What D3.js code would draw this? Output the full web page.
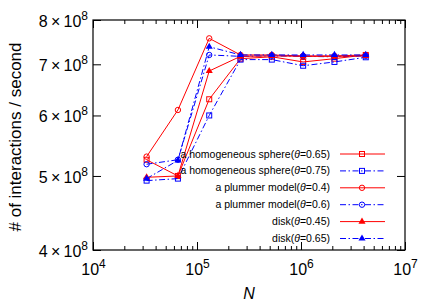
<!DOCTYPE html>
<html>
<head>
<meta charset="utf-8">
<script src="https://cdn.jsdelivr.net/npm/d3@7"></script>
<style>
  body { margin: 0; background: #fff; }
  svg { display: block; font-family: "Liberation Sans", Arial, sans-serif; }
</style>
</head>
<body>
<svg id="chart" width="436" height="305"></svg>
<script>
const nValues = [32768, 65536, 131072, 262144, 524288, 1048576, 2097152, 4194304];

const homog065 = [5.25e8, 5.0e8, 6.3e8, 7.12e8, 7.16e8, 7.05e8, 7.12e8, 7.2e8];
const homog075 = [4.93e8, 4.96e8, 6.0e8, 7.1e8, 7.1e8, 6.97e8, 7.05e8, 7.15e8];
const plummer04 = [5.3e8, 6.1e8, 7.57e8, 7.2e8, 7.2e8, 7.18e8, 7.18e8, 7.2e8];
const plummer06 = [5.18e8, 5.25e8, 7.2e8, 7.17e8, 7.18e8, 7.17e8, 7.16e8, 7.18e8];
const disk045 = [4.98e8, 5.0e8, 6.86e8, 7.17e8, 7.18e8, 7.17e8, 7.17e8, 7.18e8];
const disk065 = [4.96e8, 5.24e8, 7.38e8, 7.2e8, 7.2e8, 7.2e8, 7.2e8, 7.2e8];

const seriesNames = [
  ["a homogeneous sphere(", "0.65)"],
  ["a homogeneous sphere(", "0.75)"],
  ["a plummer model(", "0.4)"],
  ["a plummer model(", "0.6)"],
  ["disk(", "0.45)"],
  ["disk(", "0.65)"]
];

const xTicks = [1e4, 1e5, 1e6, 1e7];
const xExponents = [4, 5, 6, 7];
const yTicks = [4e8, 5e8, 6e8, 7e8, 8e8];
const yMantissas = [4, 5, 6, 7, 8];

const dashDot = "6,2.5,1.5,2.5";
const series = [
  { values: homog065, color: "#ff0000", dash: null, marker: "square" },
  { values: homog075, color: "#0000ff", dash: dashDot, marker: "square" },
  { values: plummer04, color: "#ff0000", dash: null, marker: "circle" },
  { values: plummer06, color: "#0000ff", dash: dashDot, marker: "circle" },
  { values: disk045, color: "#ff0000", dash: null, marker: "triangle" },
  { values: disk065, color: "#0000ff", dash: dashDot, marker: "triangle" }
];

const svg = d3.select("#chart");
const margin = { top: 20, right: 31, bottom: 55, left: 93 };
const width = 436, height = 305;
const innerWidth = width - margin.left - margin.right;
const innerHeight = height - margin.top - margin.bottom;

const x = d3.scaleLog().domain([1e4, 1e7]).range([0, innerWidth]);
const y = d3.scaleLog().domain([4e8, 8e8]).range([innerHeight, 0]);

const g = svg.append("g").attr("transform", `translate(${margin.left},${margin.top})`);

// minor x ticks 2..9 per decade
const minorX = [];
for (let e = 4; e < 7; e++) for (let m = 2; m <= 9; m++) minorX.push(m * Math.pow(10, e));

const styleAxis = (sel) => {
  sel.select(".domain").remove();
  sel.selectAll("line").attr("stroke", "#000").attr("stroke-width", 1);
};
const noLabels = (sel) => sel.selectAll(".tick text").remove();

g.append("g").attr("transform", `translate(0,${innerHeight})`)
  .call(d3.axisBottom(x).tickValues(minorX).tickSize(-4))
  .call(styleAxis).call(noLabels);
g.append("g")
  .call(d3.axisTop(x).tickValues(minorX).tickSize(-4))
  .call(styleAxis).call(noLabels);

const xAxis = g.append("g").attr("transform", `translate(0,${innerHeight})`)
  .call(d3.axisBottom(x).tickValues(xTicks).tickSize(-8))
  .call(styleAxis);
xAxis.selectAll(".tick text").each(function (d, i) {
  const t = d3.select(this).text(null)
    .attr("font-size", 16).attr("fill", "#000").attr("font-family", null)
    .attr("dy", null).attr("y", 25).attr("text-anchor", "middle");
  t.append("tspan").text("10");
  t.append("tspan").attr("dy", -7).attr("font-size", 12).text(xExponents[i]);
});
g.append("g")
  .call(d3.axisTop(x).tickValues(xTicks).tickSize(-8))
  .call(styleAxis).call(noLabels);

const yAxis = g.append("g")
  .call(d3.axisLeft(y).tickValues(yTicks).tickSize(-8))
  .call(styleAxis);
yAxis.selectAll(".tick text").each(function (d, i) {
  const t = d3.select(this).text(null)
    .attr("font-size", 16).attr("fill", "#000").attr("font-family", null)
    .attr("dy", 6.5).attr("x", -5).attr("text-anchor", "end");
  t.append("tspan").text(yMantissas[i] + "\u2009\u00d7\u200910");
  t.append("tspan").attr("dy", -7).attr("font-size", 12).text("8");
});
g.append("g").attr("transform", `translate(${innerWidth},0)`)
  .call(d3.axisRight(y).tickValues(yTicks).tickSize(-8))
  .call(styleAxis).call(noLabels);

g.append("rect").attr("width", innerWidth).attr("height", innerHeight)
  .attr("fill", "none").attr("stroke", "#000").attr("stroke-width", 1.2);

// axis titles
svg.append("text")
  .attr("transform", `translate(21,137) rotate(-90)`)
  .attr("text-anchor", "middle").attr("font-size", 17).text("# of interactions / second");
svg.append("text")
  .attr("x", 249).attr("y", 299)
  .attr("text-anchor", "middle").attr("font-size", 16).attr("font-style", "italic").text("N");

const drawMarker = (sel, type, color) => {
  if (type === "square") {
    sel.append("rect").attr("x", -2.5).attr("y", -2.5).attr("width", 5).attr("height", 5)
      .attr("fill", "none").attr("stroke", color).attr("stroke-width", 1);
  } else if (type === "circle") {
    sel.append("circle").attr("r", 2.7)
      .attr("fill", "none").attr("stroke", color).attr("stroke-width", 1);
  } else {
    sel.append("path").attr("d", d3.symbol(d3.symbolTriangle, 22)())
      .attr("fill", color);
  }
};

const line = d3.line().x((d, i) => x(nValues[i])).y((d) => y(d));

series.forEach((s) => {
  g.append("path").datum(s.values)
    .attr("d", line)
    .attr("fill", "none").attr("stroke", s.color).attr("stroke-width", 1)
    .attr("stroke-dasharray", s.dash);
  g.selectAll(null).data(s.values).join("g")
    .attr("transform", (d, i) => `translate(${x(nValues[i])},${y(d)})`)
    .each(function () { drawMarker(d3.select(this), s.marker, s.color); });
});

// legend
const legend = svg.append("g");
series.forEach((s, i) => {
  const ly = 154 + i * 16.9;
  const t = legend.append("text").attr("x", 330).attr("y", ly + 3.5)
    .attr("text-anchor", "end").attr("font-size", 10.5);
  t.append("tspan").text(seriesNames[i][0]);
  t.append("tspan").attr("font-style", "italic").text("\u03b8");
  t.append("tspan").text("=" + seriesNames[i][1]);
  legend.append("line").attr("x1", 340).attr("x2", 385).attr("y1", ly).attr("y2", ly)
    .attr("stroke", s.color).attr("stroke-width", 1).attr("stroke-dasharray", s.dash);
  const m = legend.append("g").attr("transform", `translate(362,${ly})`);
  drawMarker(m, s.marker, s.color);
});
</script>
</body>
</html>
